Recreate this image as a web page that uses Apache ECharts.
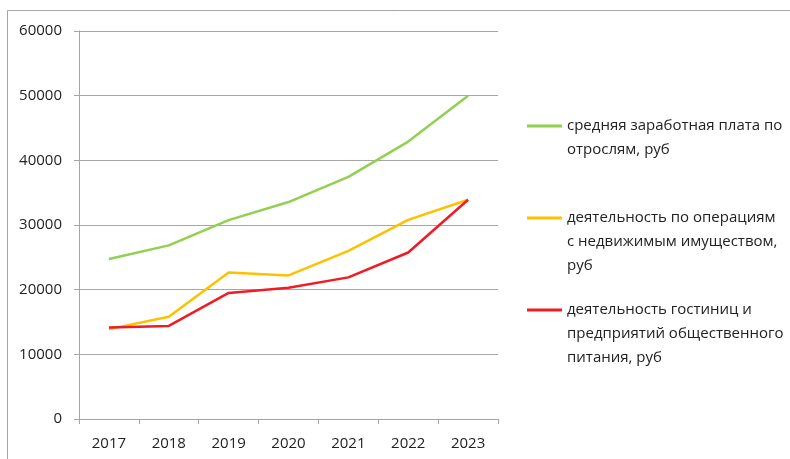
<!DOCTYPE html>
<html>
<head>
<meta charset="utf-8">
<script src="https://cdn.jsdelivr.net/npm/echarts@6/dist/echarts.min.js"></script>
<style>
html,body{margin:0;padding:0;background:#fff;}
#c{width:790px;height:459px;}
</style>
</head>
<body>
<div id="c"></div>
<script>
const years = ['2017','2018','2019','2020','2021','2022','2023'];
const avgWage = [24750, 26850, 30750, 33550, 37450, 42900, 50000];
const realEstate = [13900, 15800, 22650, 22200, 26000, 30800, 33900];
const hotels = [14150, 14400, 19500, 20300, 21900, 25750, 33900];
const yTicks = [0, 10000, 20000, 30000, 40000, 50000, 60000];
const names = [
  'средняя заработная плата по\nотрослям, руб',
  'деятельность по операциям\nс недвижимым имуществом,\nруб',
  'деятельность гостиниц и\nпредприятий общественного\nпитания, руб'
];
const colors = ['#92D050', '#FFC000', '#EE1C25'];
const FONT = '"Open Sans", sans-serif';

const chart = echarts.init(document.getElementById('c'), null, {renderer: 'canvas'});

function mkLegend(i, top) {
  const lines = names[i].split('\n').length;
  return {
    orient: 'vertical',
    left: 527,
    top: top,
    itemWidth: 35,
    itemHeight: 3,
    itemGap: 0,
    padding: 0,
    icon: 'rect',
    data: [names[i]],
    formatter: function (n) { return '\n'.repeat(lines - 1) + n; },
    textStyle: {
      fontFamily: FONT,
      fontSize: 15,
      color: '#222222',
      lineHeight: 24
    }
  };
}

const option = {
  backgroundColor: '#fff',
  animation: false,
  grid: {left: 79, right: 292, top: 31, bottom: 40, containLabel: false},
  legend: [mkLegend(0, 90), mkLegend(1, 158), mkLegend(2, 250)],
  xAxis: {
    type: 'category',
    data: years,
    boundaryGap: true,
    axisLine: {lineStyle: {color: '#a6a6a6', width: 1}},
    axisTick: {show: true, length: 5, lineStyle: {color: '#a6a6a6'}},
    axisLabel: {fontFamily: FONT, fontSize: 15, color: '#222222', margin: 17}
  },
  yAxis: {
    type: 'value',
    min: yTicks[0],
    max: yTicks[yTicks.length - 1],
    interval: yTicks[1] - yTicks[0],
    axisLine: {show: true, lineStyle: {color: '#a6a6a6', width: 1}},
    axisTick: {show: true, length: 5, lineStyle: {color: '#a6a6a6'}},
    splitLine: {lineStyle: {color: '#a6a6a6', width: 1}},
    axisLabel: {fontFamily: FONT, fontSize: 15, color: '#222222', margin: 17, formatter: v => String(v)}
  },
  series: [
    {name: names[0], type: 'line', data: avgWage, symbol: 'none', lineStyle: {color: colors[0], width: 2.5}, itemStyle: {color: colors[0]}},
    {name: names[1], type: 'line', data: realEstate, symbol: 'none', lineStyle: {color: colors[1], width: 2.5}, itemStyle: {color: colors[1]}},
    {name: names[2], type: 'line', data: hotels, symbol: 'none', lineStyle: {color: colors[2], width: 2.5}, itemStyle: {color: colors[2]}}
  ],
  graphic: [{
    type: 'polyline',
    silent: true,
    shape: {points: [[7.5, 459], [7.5, 10.5], [790, 10.5]]},
    style: {stroke: '#a6a6a6', lineWidth: 1, fill: null}
  }]
};
chart.setOption(option);
</script>
</body>
</html>
